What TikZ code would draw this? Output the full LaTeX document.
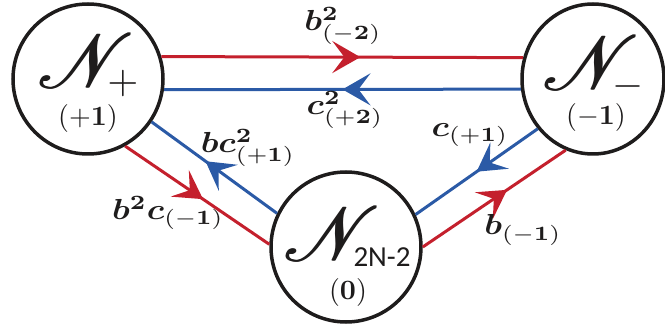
\documentclass[tikz,border=0pt]{standalone}
\usepackage[no-math]{fontspec}
\usepackage{amsmath}
\usepackage{bm}
\usepackage{graphicx}
\newfontfamily\carl{Carlito}
\usetikzlibrary{arrows.meta,decorations.markings,shapes.geometric}
\DeclareFontFamily{U}{myrsfs}{\skewchar\font127 }
\DeclareFontShape{U}{myrsfs}{m}{n}{<-> rsfs10}{}
\newcommand{\rsN}{\usefont{U}{myrsfs}{m}{n}N}
\newcommand{\scrN}{\scalebox{7.6}{\rlap{\rsN}\hspace{0.1pt}\rlap{\rsN}\hspace{0.1pt}\rsN}}
\definecolor{myred}{RGB}{196,32,45}
\definecolor{myblue}{RGB}{43,90,166}
\definecolor{ink}{RGB}{30,28,28}
\newcommand{\lbl}[1]{\scalebox{3.4}[2.9]{$#1$}}
\newcommand{\chg}[1]{\scalebox{2.8}{$#1$}}
\newcommand{\subsym}[1]{\raisebox{-6pt}{\scalebox{4}{$#1$}}}
\tikzset{
  state/.style={circle, draw=ink, line width=3.5pt, minimum size=150pt, inner sep=0pt},
  redline/.style={color=myred, line width=3pt},
  blueline/.style={color=myblue, line width=3pt},
  midarrow/.style={postaction={decorate}, decoration={markings,
    mark=at position #1 with {\arrow{Stealth[length=28pt,width=32pt,inset=12pt]}}}},
  lab/.style={inner sep=0pt, text=ink},
  bigname/.style={inner sep=0pt, anchor=base, text=ink},
  charge/.style={inner sep=0pt, anchor=base, text=ink},
}
\begin{document}
\begin{tikzpicture}[x=1pt,y=-1pt]
\useasboundingbox (0,0) rectangle (665,326);
% states
\node[state] (np) at (88,79) {};
\node[state, ellipse, minimum width=142pt, minimum height=150pt] (nm) at (593,79) {};
\node[state] (n0) at (346,247) {};
% state texts
\node[bigname] (tnp) at (88,88) {\scrN\subsym{+}};
\node[charge] (cnp) at (88,126) {\chg{(+\mathbf{1})}};
\node[bigname] (tnm) at (593,90) {\scrN\subsym{-}};
\node[charge] (cnm) at (596,125) {\chg{(-\mathbf{1})}};
\node[bigname] (tn0) at (347,261) {\scrN\raisebox{-6pt}{\fontsize{29}{30}\selectfont\carl 2N-2}};
\node[charge] (cn0) at (348,300) {\chg{(\mathbf{0})}};
% connectors
\draw[redline, midarrow=0.55] (np.17) -- (nm.163);
\draw[blueline, midarrow=0.5] (nm.188.4) -- (np.-8.4);
\draw[redline, midarrow=0.54] (np.-61) -- (n0.178);
\draw[blueline, midarrow=0.57] (n0.154) -- (np.-34);
\draw[blueline, midarrow=0.5] (nm.222) -- (n0.25);
\draw[redline, midarrow=0.59] (n0.0) -- (nm.249);
% labels
\node[lab] (l1) at (343,26) {\lbl{\bm{b}^{\mathbf{2}}_{(-\mathbf{2})}}};
\node[lab] (l2) at (345,110) {\lbl{\bm{c}^{\mathbf{2}}_{(+\mathbf{2})}}};
\node[lab] (l3) at (248,148) {\lbl{\bm{bc}^{\mathbf{2}}_{(+\mathbf{1})}}};
\node[lab] (l4) at (168,213) {\lbl{\bm{b}^{\mathbf{2}}\bm{c}_{(-\mathbf{1})}}};
\node[lab] (l5) at (470,135) {\lbl{\bm{c}_{(+\mathbf{1})}}};
\node[lab] (l6) at (523,230) {\lbl{\bm{b}_{(-\mathbf{1})}}};
\end{tikzpicture}
\end{document}
